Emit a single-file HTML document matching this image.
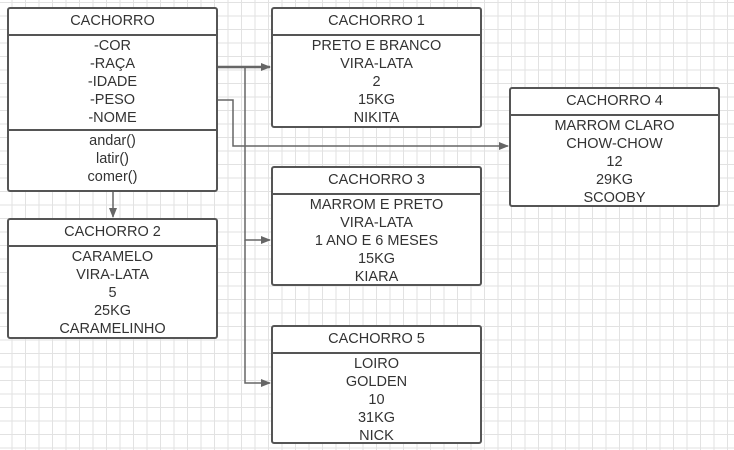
<!DOCTYPE html>
<html><head><style>
body{margin:0;width:734px;height:450px;overflow:hidden;background:#fff;font-family:"Liberation Sans",sans-serif;color:#333;}
.bg{position:absolute;left:0;top:0;width:734px;height:450px;
background-image:linear-gradient(#e2e2e2 1px,transparent 1px),linear-gradient(90deg,#e2e2e2 1px,transparent 1px);
background-size:13.5px 13.5px;background-position:-2px 2px;}
.b{position:absolute;border:2px solid #555;border-radius:3px;background:#fff;box-sizing:border-box;text-align:center;font-size:14.5px;}
.h{height:25px;line-height:25px;border-bottom:2px solid #555;}
.c{line-height:18px;padding-top:1px;}
.s{border-top:2px solid #555;}
svg{position:absolute;left:0;top:0;}
</style></head><body>
<div class="bg"></div>
<svg width="734" height="450">
<defs><marker id="a" markerWidth="10" markerHeight="8" refX="9" refY="4" orient="auto" markerUnits="userSpaceOnUse"><path d="M0,0 L10,4 L0,8 z" fill="#666"/></marker></defs>
<g fill="none" stroke="#666" stroke-width="1.5">
<path d="M218,67 H245 V67 H270" marker-end="url(#a)" stroke-width="2.5"/>
<path d="M245,67 V240 H270" marker-end="url(#a)"/>
<path d="M245,240 V383 H270" marker-end="url(#a)"/>
<path d="M218,100 H233 V146 H508" marker-end="url(#a)"/>
<path d="M113,191 V217" marker-end="url(#a)"/>
</g></svg>
<div class="b" style="left:7px;top:7px;width:211px;height:185px">
<div class="h">CACHORRO</div>
<div class="c" style="height:92px">-COR<br>-RAÇA<br>-IDADE<br>-PESO<br>-NOME</div>
<div class="c s">andar()<br>latir()<br>comer()</div></div>
<div class="b" style="left:271px;top:7px;width:211px;height:121px">
<div class="h">CACHORRO 1</div>
<div class="c">PRETO E BRANCO<br>VIRA-LATA<br>2<br>15KG<br>NIKITA</div></div>
<div class="b" style="left:509px;top:87px;width:211px;height:120px">
<div class="h">CACHORRO 4</div>
<div class="c">MARROM CLARO<br>CHOW-CHOW<br>12<br>29KG<br>SCOOBY</div></div>
<div class="b" style="left:271px;top:166px;width:211px;height:120px">
<div class="h">CACHORRO 3</div>
<div class="c">MARROM E PRETO<br>VIRA-LATA<br>1 ANO E 6 MESES<br>15KG<br>KIARA</div></div>
<div class="b" style="left:7px;top:218px;width:211px;height:121px">
<div class="h">CACHORRO 2</div>
<div class="c">CARAMELO<br>VIRA-LATA<br>5<br>25KG<br>CARAMELINHO</div></div>
<div class="b" style="left:271px;top:325px;width:211px;height:119px">
<div class="h">CACHORRO 5</div>
<div class="c">LOIRO<br>GOLDEN<br>10<br>31KG<br>NICK</div></div>
</body></html>
